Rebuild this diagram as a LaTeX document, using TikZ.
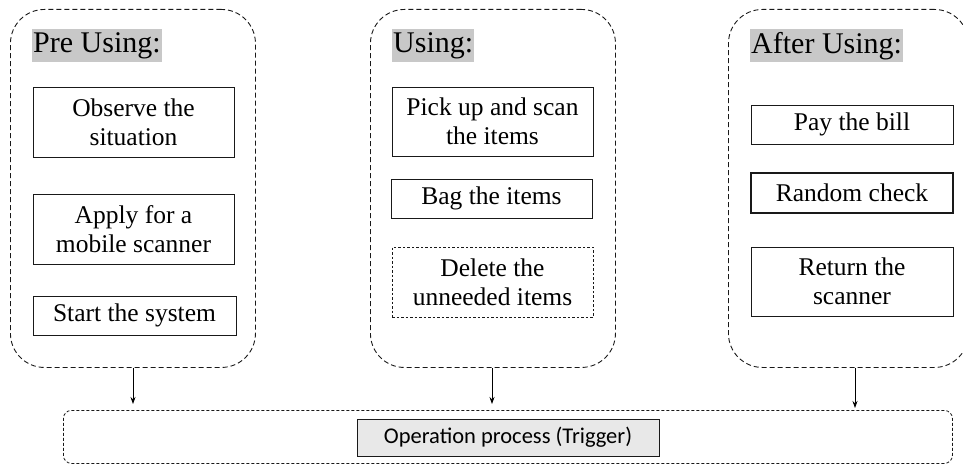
\documentclass[tikz,border=0pt]{standalone}
\usepackage{fontspec}
\setmainfont{Liberation Serif}
\newfontfamily\opfont{Carlito}
\usetikzlibrary{arrows.meta}
\definecolor{titlegray}{RGB}{200,200,200}
\definecolor{opgray}{RGB}{232,232,232}
\tikzset{
  phase/.style={draw=black!90, line width=0.9pt, dash pattern=on 5pt off 3pt,
    rounded corners=34pt, anchor=north west, inner sep=0pt},
  phasetitle/.style={fill=titlegray, anchor=north west, inner xsep=1pt, inner ysep=0pt,
    minimum height=33pt, font=\fontsize{30}{33}\selectfont},
  stepbox/.style={draw=black!90, line width=0.9pt, align=center, inner sep=0pt,
    font=\fontsize{25.5}{29}\selectfont},
  optional/.style={stepbox, line width=0.8pt, dash pattern=on 2.5pt off 2pt},
  strong/.style={stepbox, line width=1.5pt},
  trigger/.style={draw=black!90, line width=0.8pt, dash pattern=on 3pt off 2pt,
    rounded corners=8pt, anchor=north west, inner sep=0pt},
  flow/.style={line width=0.8pt, -{Stealth[length=7pt,width=5pt]}}
}
\begin{document}
\begin{tikzpicture}[x=1pt, y=-1pt]
\clip (0,0) rectangle (963,465);

% phase containers
\node[phase, minimum width=245pt, minimum height=358pt] (pre) at (10,9) {};
\node[phase, minimum width=245pt, minimum height=358pt] (use) at (370,9) {};
\node[phase, minimum width=240pt, minimum height=358pt] (after) at (728,9) {};

% phase titles
\node[phasetitle] (pretitle) at (32,29) {Pre Using:};
\node[phasetitle] (usetitle) at (392,29) {Using:};
\node[phasetitle] (aftertitle) at (750,29) {After Using:};

% pre using steps
\node[stepbox, minimum width=201pt, minimum height=70pt] (observe) at (133.5,122) {Observe the\\situation};
\node[stepbox, minimum width=201pt, minimum height=70pt] (apply) at (133.5,229) {Apply for a\\mobile scanner};
\node[stepbox, minimum width=203pt, minimum height=39pt] (start) at (134.5,315.5) {Start the system};

% using steps
\node[stepbox, minimum width=201pt, minimum height=69pt] (scan) at (492.5,121.5) {Pick up and scan\\the items};
\node[stepbox, minimum width=201pt, minimum height=39pt] (bag) at (491.5,198.5) {Bag the items};
\node[optional, minimum width=201pt, minimum height=70pt] (delete) at (492.5,282) {Delete the\\unneeded items};

% after using steps
\node[stepbox, minimum width=202pt, minimum height=39pt] (pay) at (852,124.5) {Pay the bill};
\node[strong, minimum width=202pt, minimum height=40pt] (check) at (852,193) {Random check};
\node[stepbox, minimum width=202pt, minimum height=69pt] (return) at (852,281.5) {Return the\\scanner};

% operation process
\node[trigger, minimum width=889pt, minimum height=53pt] (ops) at (63,410) {};
\node[draw=black!90, line width=0.8pt, fill=opgray, minimum width=302pt, minimum height=37pt,
  inner sep=0pt, font=\opfont\fontsize{22.5}{26}\selectfont] (trig) at (508,437.5) {Operation process (Trigger)};

% arrow targets above the operation frame
\coordinate (t1) at (133,404);
\coordinate (t2) at (492,404);
\coordinate (t3) at (855,408);
\draw[flow] (pre.south -| t1) -- (t1);
\draw[flow] (use.south -| t2) -- (t2);
\draw[flow] (after.south -| t3) -- (t3);
\end{tikzpicture}
\end{document}
